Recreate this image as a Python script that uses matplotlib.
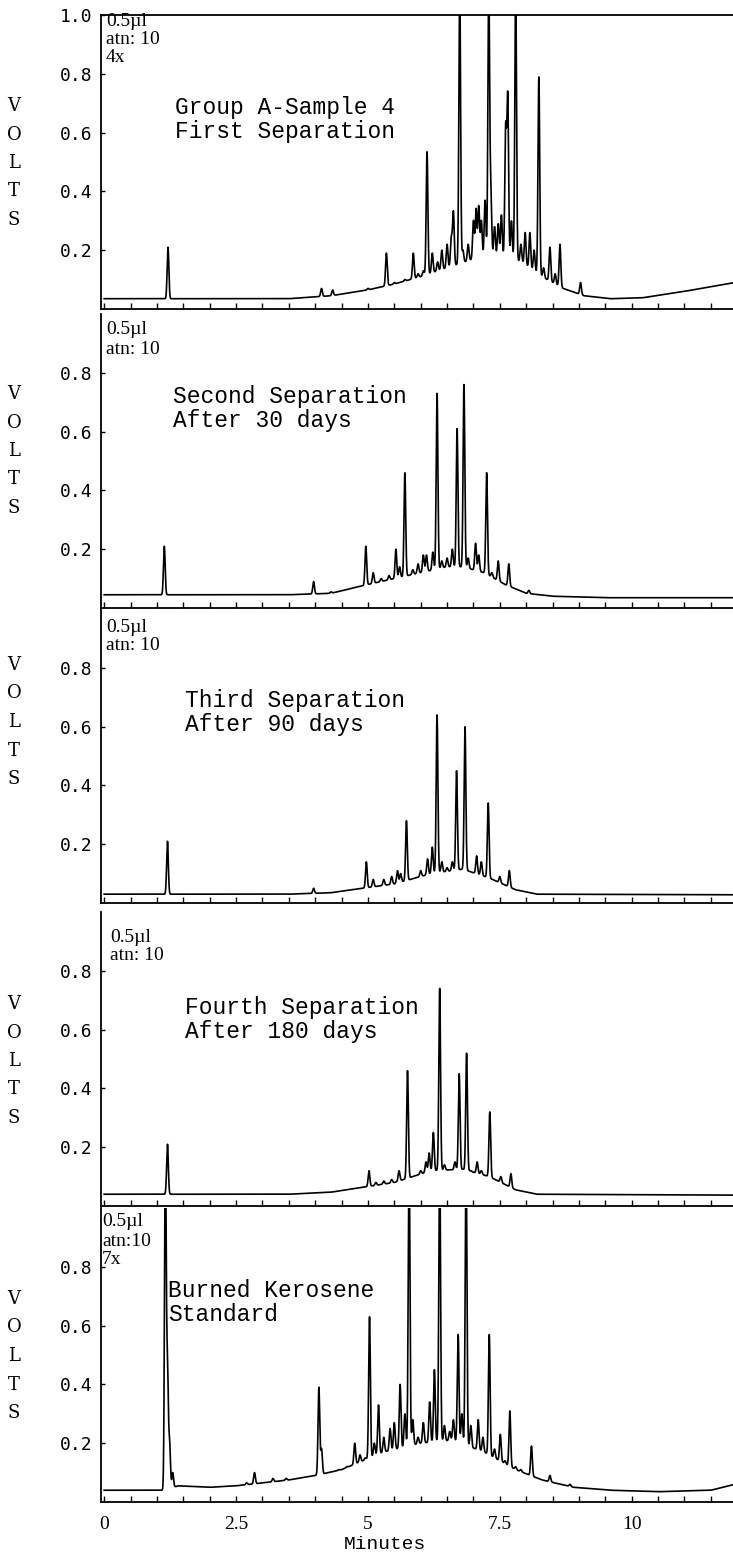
import numpy as np
import matplotlib
matplotlib.use("Agg")
import matplotlib.pyplot as plt
from matplotlib.ticker import MultipleLocator, FixedLocator, NullFormatter

MONO = "Liberation Mono"
SERIF = "Liberation Serif"

# ---- data (minutes, volts) ----
p1_peak_t = [1.21, 4.12, 4.33, 4.75, 5.0, 5.35, 5.5, 5.7, 5.86, 5.95, 6.05, 6.12, 6.22, 6.32,
             6.4, 6.5, 6.58, 6.62, 6.74, 6.8, 6.9, 7.0, 7.05, 7.1, 7.15, 7.22, 7.29, 7.33,
             7.4, 7.47, 7.53, 7.61, 7.65, 7.72, 7.80, 7.9, 7.98, 8.07, 8.15, 8.24, 8.33,
             8.45, 8.55, 8.64, 9.03]
p1_peak_h = [0.21, 0.07, 0.065, 0.055, 0.07, 0.19, 0.09, 0.10, 0.19, 0.12, 0.13, 0.535, 0.19, 0.16,
             0.20, 0.22, 0.24, 0.33, 1.10, 0.20, 0.22, 0.30, 0.34, 0.35, 0.30, 0.37, 1.10, 0.40,
             0.28, 0.29, 0.32, 0.61, 0.72, 0.30, 1.10, 0.22, 0.26, 0.26, 0.20, 0.79, 0.14,
             0.21, 0.12, 0.22, 0.09]
p1_base_t = [0, 3.5, 4.3, 5.0, 5.5, 6.0, 6.5, 7.0, 7.5, 7.9, 8.3, 8.7, 9.1, 9.6, 10.2, 11.0, 11.95]
p1_base_v = [0.035, 0.035, 0.045, 0.065, 0.085, 0.11, 0.14, 0.17, 0.18, 0.16, 0.11, 0.07, 0.045,
             0.035, 0.038, 0.06, 0.09]

p2_peak_t = [1.14, 3.97, 4.3, 4.6, 4.96, 5.1, 5.25, 5.4, 5.53, 5.6, 5.70, 5.85, 5.95, 6.05, 6.11,
             6.23, 6.31, 6.4, 6.5, 6.6, 6.69, 6.82, 6.9, 7.04, 7.1, 7.25, 7.35, 7.47, 7.67, 8.05]
p2_peak_h = [0.21, 0.09, 0.055, 0.06, 0.21, 0.12, 0.10, 0.11, 0.20, 0.14, 0.46, 0.13, 0.15, 0.18, 0.18,
             0.19, 0.73, 0.16, 0.17, 0.20, 0.61, 0.76, 0.17, 0.22, 0.18, 0.46, 0.12, 0.16, 0.15, 0.06]
p2_base_t = [0, 3.5, 4.3, 5.0, 5.5, 6.0, 6.5, 6.8, 7.2, 7.6, 8.0, 8.5, 9.5, 11.95]
p2_base_v = [0.045, 0.045, 0.05, 0.08, 0.10, 0.12, 0.14, 0.14, 0.12, 0.08, 0.05, 0.04, 0.035, 0.035]

p3_peak_t = [1.2, 3.97, 4.97, 5.1, 5.3, 5.45, 5.56, 5.62, 5.73, 5.85, 6.0, 6.13, 6.22, 6.31, 6.4,
             6.5, 6.6, 6.68, 6.84, 6.95, 7.06, 7.15, 7.28, 7.5, 7.68]
p3_peak_h = [0.21, 0.05, 0.14, 0.08, 0.08, 0.09, 0.11, 0.10, 0.28, 0.08, 0.11, 0.15, 0.19, 0.64, 0.14,
             0.12, 0.14, 0.45, 0.60, 0.10, 0.16, 0.14, 0.34, 0.09, 0.11]
p3_base_t = [0, 3.5, 4.3, 5.5, 6.2, 6.8, 7.3, 7.8, 8.2, 11.95]
p3_base_v = [0.03, 0.03, 0.035, 0.065, 0.10, 0.115, 0.085, 0.045, 0.03, 0.028]

p4_peak_t = [1.2, 4.1, 5.02, 5.15, 5.3, 5.45, 5.59, 5.75, 5.85, 6.0, 6.1, 6.16, 6.24, 6.36, 6.45,
             6.55, 6.65, 6.73, 6.87, 6.95, 7.07, 7.15, 7.31, 7.52, 7.71]
p4_peak_h = [0.21, 0.045, 0.12, 0.08, 0.085, 0.09, 0.12, 0.46, 0.09, 0.12, 0.15, 0.18, 0.25, 0.74, 0.14,
             0.12, 0.15, 0.45, 0.52, 0.12, 0.15, 0.12, 0.32, 0.10, 0.11]
p4_base_t = [0, 3.5, 4.3, 5.5, 6.2, 6.8, 7.3, 7.8, 8.2, 11.95]
p4_base_v = [0.04, 0.04, 0.047, 0.08, 0.12, 0.125, 0.10, 0.055, 0.04, 0.037]

p5_peak_t = [1.16, 1.2, 1.24, 1.3, 1.95, 2.5, 2.7, 2.85, 3.2, 3.45, 3.75, 4.07, 4.12, 4.3, 4.45,
             4.6, 4.75, 4.85, 4.95, 5.03, 5.12, 5.2, 5.3, 5.42, 5.5, 5.61, 5.7, 5.78, 5.85, 5.95,
             6.05, 6.17, 6.26, 6.36, 6.45, 6.55, 6.62, 6.71, 6.78, 6.86, 6.95, 7.09, 7.18, 7.30,
             7.4, 7.51, 7.6, 7.69, 7.8, 7.9, 8.1, 8.45, 8.83]
p5_peak_h = [1.2, 0.45, 0.20, 0.10, 0.05, 0.05, 0.065, 0.10, 0.08, 0.08, 0.075, 0.39, 0.18, 0.10, 0.11,
             0.12, 0.20, 0.16, 0.15, 0.63, 0.20, 0.33, 0.22, 0.25, 0.27, 0.40, 0.30, 1.2, 0.28, 0.22,
             0.27, 0.34, 0.45, 1.2, 0.26, 0.24, 0.28, 0.57, 0.30, 1.2, 0.26, 0.28, 0.22, 0.57,
             0.18, 0.23, 0.14, 0.31, 0.12, 0.11, 0.19, 0.09, 0.06]
p5_base_t = [0, 1.15, 1.4, 2.0, 2.5, 3.0, 3.5, 4.0, 4.5, 5.3, 6.0, 6.6, 7.2, 7.8, 8.3, 8.9, 9.6,
             10.5, 11.5, 11.95]
p5_base_v = [0.04, 0.04, 0.055, 0.05, 0.055, 0.065, 0.075, 0.09, 0.11, 0.17, 0.20, 0.21, 0.17, 0.11,
             0.075, 0.05, 0.04, 0.035, 0.04, 0.06]

notes = [["0.5µl", "atn: 10", "4x"], ["0.5µl", "atn: 10"], ["0.5µl", "atn: 10"],
         ["0.5µl", "atn: 10"], ["0.5µl", "atn:10", "7x"]]
titles = [["Group A-Sample 4", "First Separation"],
          ["Second Separation", "After 30 days"],
          ["Third Separation", "After 90 days"],
          ["Fourth Separation", "After 180 days"],
          ["Burned Kerosene", "Standard"]]
x_ticklabels = ["0", "2.5", "5", "7.5", "10"]
x_ticks = [0, 2.5, 5, 7.5, 10]

panels = [(p1_peak_t, p1_peak_h, p1_base_t, p1_base_v),
          (p2_peak_t, p2_peak_h, p2_base_t, p2_base_v),
          (p3_peak_t, p3_peak_h, p3_base_t, p3_base_v),
          (p4_peak_t, p4_peak_h, p4_base_t, p4_base_v),
          (p5_peak_t, p5_peak_h, p5_base_t, p5_base_v)]


def trace(peak_t, peak_h, base_t, base_v, t):
    """baseline hump plus narrow peaks at the read apex heights"""
    y = np.interp(t, base_t, base_v)
    for tp, hp in zip(peak_t, peak_h):
        amp = max(hp - np.interp(tp, base_t, base_v), 0)
        y = y + amp * np.exp(-0.5 * ((t - tp) / 0.016) ** 2)
    return y


# ---- layout (pixels of a 733x1556 page) ----
W, H = 733, 1556
LEFT_PX = 101
BOTTOMS_PX = [309, 608, 903, 1206, 1502]
HEIGHT_PX = 294
NOTE_POS = [(106, 22, 18), (106, 330, 19), (106, 627, 19), (110, 938, 18), (102, 1222, 19)]
TITLE_POS = [(175, 96), (173, 385), (185, 689), (185, 996), (168, 1279)]
VOLTS_Y = [163, 451, 722, 1061, 1356]

fig = plt.figure(figsize=(W / 100, H / 100), dpi=100, facecolor="white")
t = np.linspace(0, 11.95, 8000)

for i, (pt, ph, bt, bv) in enumerate(panels):
    b = BOTTOMS_PX[i]
    ax = fig.add_axes([LEFT_PX / W, 1 - b / H, (W - LEFT_PX) / W, HEIGHT_PX / H])
    ax.plot(t, trace(pt, ph, bt, bv, t), color="black", lw=1.2)
    ax.set_xlim(-0.06, 11.92)
    ax.set_ylim(0, 1.0)

    ax.spines["right"].set_visible(False)
    ax.spines["top"].set_visible(i == 0)
    for s in ax.spines.values():
        s.set_linewidth(1.3)

    yt = [0.2, 0.4, 0.6, 0.8] + ([1.0] if i == 0 else [])
    ax.set_yticks(yt)
    ax.set_yticklabels([f"{v:.1f}" for v in yt], family="DejaVu Sans Mono", fontsize=13)
    ax.tick_params(axis="y", direction="in", length=3, width=1, pad=6)

    ax.xaxis.set_major_locator(FixedLocator(x_ticks))
    ax.xaxis.set_minor_locator(MultipleLocator(0.5))
    ax.tick_params(axis="x", which="both", direction="in", length=4, width=1)
    if i == 4:
        ax.set_xticklabels(x_ticklabels, family=SERIF, fontsize=14)
        ax.tick_params(axis="x", pad=10)
        ax.set_xlabel("Minutes", family=MONO, fontsize=14, labelpad=2)
        ax.xaxis.set_label_coords((385 - LEFT_PX) / (W - LEFT_PX), -0.115)
    else:
        ax.xaxis.set_major_formatter(NullFormatter())

    nx, ny, step = NOTE_POS[i]
    for k, line in enumerate(notes[i]):
        fig.text(nx / W, 1 - (ny + k * step) / H, line, family=SERIF, fontsize=14,
                 ha="left", va="center")
    tx, ty = TITLE_POS[i]
    fig.text(tx / W, 1 - ty / H, "\n".join(titles[i]), family=MONO, fontsize=16.5,
             ha="left", va="top", linespacing=1.05)
    fig.text(14 / W, 1 - VOLTS_Y[i] / H, "V\nO\nL\nT\nS", family="DejaVu Serif", fontsize=13,
             ha="center", va="center", linespacing=1.75)

fig.savefig("out.png", dpi=100, facecolor="white")
